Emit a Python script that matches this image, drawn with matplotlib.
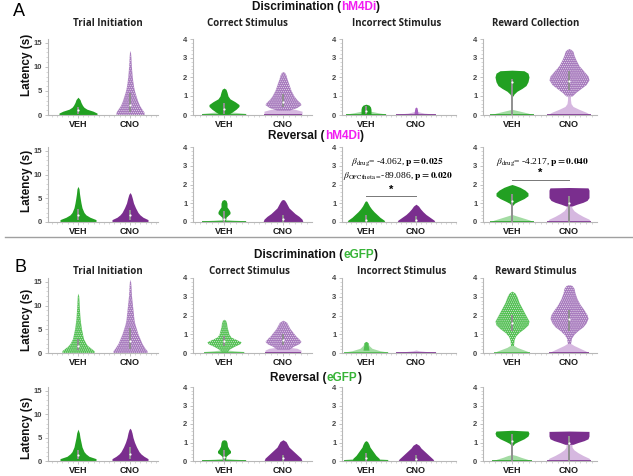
import numpy as np
import matplotlib
matplotlib.use("Agg")
import matplotlib.pyplot as plt
from matplotlib.lines import Line2D
from matplotlib.ticker import MultipleLocator
from matplotlib.offsetbox import TextArea, HPacker, AnnotationBbox

plt.rcParams['font.family'] = ['Liberation Sans', 'DejaVu Sans']
plt.rcParams['mathtext.fontset'] = 'stix'
plt.rcParams['hatch.linewidth'] = 0.35

# ---------------- data (latency level, violin half width) ----------------
groups = ['VEH', 'CNO']
subtitles_top = ['Trial Initiation', 'Correct Stimulus', 'Incorrect Stimulus', 'Reward Collection']
subtitles_bot = ['Trial Initiation', 'Correct Stimulus', 'Incorrect Stimulus', 'Reward Stimulus']

# A: Discrimination (hM4Di)
disc_hm4di_veh_body = [
    [(0, 19), (0.4, 19), (0.8, 15), (1.2, 9), (1.6, 6), (2.0, 4.5), (2.6, 3), (3.2, 2), (3.7, 0)],
    [(0.02, 4), (0.15, 8), (0.3, 12), (0.45, 15), (0.55, 15), (0.7, 11), (0.85, 6), (1.0, 4), (1.2, 3), (1.35, 2), (1.42, 0)],
    [(0.0, 5), (0.15, 5), (0.3, 5), (0.42, 4.5), (0.52, 3), (0.57, 0)],
    [(1.0, 1), (1.1, 2), (1.25, 5), (1.4, 10), (1.55, 14), (1.75, 16), (2.0, 17), (2.2, 16), (2.33, 12), (2.36, 0)],
]
disc_hm4di_veh_base = [
    None,
    [(0, 22), (0.08, 22), (0.15, 10), (0.22, 0)],
    [(0, 20), (0.05, 20), (0.12, 12), (0.25, 0)],
    [(0, 22), (0.1, 16), (0.2, 8), (0.3, 0)],
]
disc_hm4di_cno_body = [
    [(0, 14), (0.6, 14), (1.2, 12), (2, 9.5), (3, 7.5), (4, 6), (5, 4.5), (6, 3.5), (7, 2.8), (8, 2.2),
     (9, 1.8), (10, 1.4), (11, 1.1), (12, 0.9), (13, 0.5), (13.4, 0)],
    [(0.25, 6), (0.4, 14), (0.55, 18), (0.65, 17), (0.8, 14), (1.0, 11), (1.3, 8), (1.6, 6), (1.9, 4), (2.1, 3), (2.25, 1.5), (2.28, 0)],
    [(0.05, 2), (0.25, 1.5), (0.38, 1), (0.42, 0)],
    [(1.0, 3), (1.2, 7), (1.4, 12), (1.6, 17), (1.85, 20), (2.05, 19), (2.3, 15), (2.6, 10), (2.9, 7), (3.15, 5), (3.35, 4), (3.45, 2), (3.5, 0)],
]
disc_hm4di_cno_base = [
    None,
    [(0, 19), (0.2, 19), (0.3, 12), (0.35, 0)],
    [(0, 20), (0.05, 18), (0.1, 8), (0.2, 0)],
    [(0, 22), (0.15, 17), (0.3, 10), (0.45, 4), (0.6, 2), (0.8, 1.5), (1.0, 1.5)],
]
disc_hm4di_box = [[(0.3, 1.7, 1.0), (0.6, 4.6, 2.0)],
                  [(0.05, 0.65, 0.3), (0.4, 1.1, 0.7)],
                  [(0.05, 0.45, 0.2), None],
                  [(0.0, 1.9, 1.75), (1.3, 2.3, 1.8)]]

# A: Reversal (hM4Di)
rev_hm4di_veh_body = [
    [(0, 18), (0.5, 18), (1, 12), (1.5, 8), (2, 6), (3, 4), (4, 3), (5, 2.2), (6, 1.5), (7, 1), (7.5, 0)],
    [(0.05, 1.5), (0.25, 2), (0.35, 4), (0.45, 6), (0.55, 6), (0.65, 5), (0.8, 3), (1.0, 3), (1.15, 2), (1.2, 0)],
    [(0, 19), (0.1, 18), (0.25, 14), (0.4, 11), (0.55, 8), (0.7, 5.5), (0.85, 3.5), (1.0, 2), (1.1, 1), (1.13, 0)],
    [(0.9, 1), (1.0, 2.5), (1.1, 6), (1.25, 12), (1.4, 16), (1.55, 16), (1.7, 13), (1.85, 8), (1.95, 3), (2.0, 0)],
]
rev_hm4di_veh_base = [
    None,
    [(0, 22), (0.06, 22), (0.1, 10), (0.15, 0)],
    None,
    [(0, 22), (0.1, 18), (0.2, 12), (0.3, 6), (0.4, 0)],
]
rev_hm4di_cno_body = [
    [(0, 18), (0.5, 18), (1, 13), (1.5, 10), (2, 8), (3, 5.5), (4, 3.5), (5, 2.3), (5.8, 1.2), (6.2, 0)],
    [(0, 20), (0.15, 19), (0.3, 16), (0.45, 12), (0.6, 9), (0.75, 6), (0.9, 4.5), (1.05, 3), (1.17, 1.5), (1.2, 0)],
    [(0, 19), (0.1, 18), (0.25, 14), (0.4, 10), (0.55, 7), (0.7, 4.5), (0.85, 2.5), (0.95, 0)],
    [(0.85, 3), (0.95, 8), (1.05, 14), (1.15, 18), (1.3, 20), (1.5, 20), (1.7, 20), (1.82, 19), (1.84, 0)],
]
rev_hm4di_cno_base = [
    None, None, None,
    [(0, 22), (0.15, 20), (0.3, 14), (0.45, 9), (0.6, 5), (0.75, 3), (0.85, 2.5)],
]
rev_hm4di_box = [[(0.5, 2.7, 1.5), (0.5, 2.6, 1.5)],
                 [(0.0, 0.6, 0.15), (0.0, 0.4, 0.15)],
                 [(0.0, 0.35, 0.12), (0.0, 0.3, 0.1)],
                 [(0.0, 1.5, 1.1), (0.0, 1.4, 1.0)]]

# B: Discrimination (eGFP)
disc_egfp_veh_body = [
    [(0, 16), (0.5, 16), (1, 13), (1.5, 10), (2, 8), (3, 5.5), (4, 4.5), (5, 3.5), (6, 2.8), (7, 2.2),
     (8, 1.8), (9, 1.5), (10, 1.2), (11, 1), (12, 0.7), (12.6, 0)],
    [(0.05, 3), (0.2, 5), (0.35, 10), (0.5, 16), (0.6, 17), (0.7, 13), (0.85, 7), (1.0, 5), (1.2, 4), (1.4, 3), (1.6, 2.5), (1.75, 1.5), (1.8, 0)],
    [(0.15, 3), (0.3, 2.5), (0.45, 2), (0.55, 2), (0.62, 0)],
    [(0.4, 1.5), (0.7, 2), (0.9, 3.5), (1.1, 7), (1.3, 12), (1.5, 16), (1.7, 17), (1.9, 15), (2.1, 13), (2.4, 10), (2.7, 7), (3.0, 5), (3.2, 3), (3.3, 0)],
]
disc_egfp_veh_base = [
    None,
    [(0, 20), (0.08, 20), (0.12, 10), (0.18, 0)],
    [(0, 22), (0.05, 22), (0.12, 14), (0.25, 6), (0.4, 3), (0.55, 2), (0.62, 0)],
    [(0, 18), (0.1, 15), (0.2, 10), (0.3, 5), (0.4, 2)],
]
disc_egfp_cno_body = [
    [(0, 17), (0.5, 17), (1, 15), (2, 12), (3, 10), (4, 8), (5, 6.5), (6, 5), (7, 4), (8, 3.5), (9, 3),
     (10, 2.5), (11, 2), (12, 1.5), (13, 1.2), (14, 1), (15, 0.6), (15.5, 0)],
    [(0.2, 6), (0.35, 10), (0.5, 16), (0.62, 18), (0.75, 16), (0.9, 13), (1.1, 10), (1.3, 7), (1.5, 5), (1.65, 3.5), (1.72, 1), (1.75, 0)],
    None,
    [(0.5, 1.5), (0.8, 2.5), (1.0, 5), (1.2, 9), (1.4, 14), (1.6, 17), (1.85, 19), (2.05, 18), (2.3, 15), (2.6, 11),
     (2.9, 8), (3.2, 6), (3.45, 5), (3.6, 3), (3.65, 0)],
]
disc_egfp_cno_base = [
    None,
    [(0, 18), (0.15, 18), (0.25, 14), (0.35, 0)],
    [(0, 20), (0.04, 20), (0.08, 10), (0.12, 3), (0.16, 0)],
    [(0, 20), (0.1, 17), (0.25, 11), (0.4, 5), (0.5, 2)],
]
disc_egfp_box = [[(0.6, 2.9, 1.5), (0.8, 5.3, 2.5)],
                 [(0.4, 0.9, 0.65), (0.45, 1.0, 0.7)],
                 [None, None],
                 [(1.15, 2.05, 1.6), (1.2, 2.3, 1.8)]]

# B: Reversal (eGFP)
rev_egfp_veh_body = [
    [(0, 18), (0.5, 18), (1, 11), (1.5, 8), (2, 6), (3, 4), (4, 3), (5, 2), (6, 1.3), (6.8, 0)],
    [(0.05, 1.5), (0.25, 2), (0.35, 4), (0.45, 6.5), (0.55, 6.5), (0.65, 5), (0.8, 3.5), (1.0, 3), (1.12, 2), (1.15, 0)],
    [(0, 14), (0.15, 13), (0.3, 10), (0.45, 8), (0.6, 6), (0.75, 4), (0.9, 3), (1.05, 1.5), (1.1, 0)],
    [(0.85, 1), (0.95, 2.5), (1.05, 6), (1.2, 12), (1.35, 16), (1.5, 17), (1.62, 16), (1.66, 0)],
]
rev_egfp_veh_base = [
    None,
    [(0, 22), (0.06, 22), (0.1, 10), (0.15, 0)],
    [(0, 22), (0.08, 22), (0.15, 10), (0.2, 0)],
    [(0, 20), (0.1, 15), (0.2, 9), (0.3, 4), (0.35, 0)],
]
rev_egfp_cno_body = [
    [(0, 18), (0.5, 18), (1, 14), (1.5, 11), (2, 9), (3, 6.5), (4, 4.5), (5, 3), (6, 2), (6.7, 1), (7, 0)],
    [(0, 19), (0.15, 18), (0.3, 15), (0.45, 12), (0.6, 9), (0.75, 6), (0.9, 4.5), (1.05, 3), (1.15, 0)],
    [(0, 18), (0.1, 17), (0.25, 14), (0.4, 11), (0.55, 8), (0.7, 5), (0.85, 3), (0.95, 0)],
    [(0.9, 4), (1.0, 9), (1.1, 15), (1.2, 19), (1.35, 20), (1.5, 20), (1.6, 20), (1.62, 0)],
]
rev_egfp_cno_base = [
    None, None, None,
    [(0, 22), (0.15, 20), (0.3, 14), (0.45, 9), (0.6, 5), (0.75, 3), (0.9, 3)],
]
rev_egfp_box = [[(0.5, 2.4, 1.3), (0.5, 2.9, 1.5)],
                [(0.0, 0.6, 0.2), (0.0, 0.35, 0.15)],
                [(0.0, 0.45, 0.15), (0.0, 0.35, 0.1)],
                [(0.0, 1.45, 1.1), (0.0, 1.35, 1.0)]]

# stats annotations (A reversal)
stat_incorrect = [r'$\beta_{\mathrm{drug}}$= -4.062, $\mathbf{p=0.025}$',
                  r'$\beta_{\mathrm{OFCtheta=}}$-89.086, $\mathbf{p=0.020}$']
stat_reward = [r'$\beta_{\mathrm{drug}}$= -4.217, $\mathbf{p=0.040}$']

# ---------------- styles ----------------
GREEN = '#22a022'
GREEN_SP = '#55c255'
GREEN_LT = '#a3dca3'
PURPLE = '#7a2e8e'
PURPLE_SP = '#a87cbe'
PURPLE_LT = '#d6b8e0'
BOXC = '#8f8f8f'

W, H = 633, 476
fig = plt.figure(figsize=(W / 100, H / 100), dpi=100)

rows_px = [(39, 115), (147, 222), (278, 353), (387, 461)]
cols_px = [(48, 158, 78, 130), (193, 312, 224, 283), (342, 456, 366, 416), (483, 597, 512, 569)]


def violin(ax, x, prof, unit, color, speckle=False):
    if prof is None:
        return
    y = np.array([p[0] for p in prof])
    w = np.array([p[1] for p in prof]) / unit
    ax.fill_betweenx(y, x - w, x + w, color=color, lw=0, zorder=2)
    if speckle:
        ax.fill_betweenx(y, x - w, x + w, facecolor='none', edgecolor='#f4eef6',
                         hatch='........', lw=0, zorder=2.1)


def base(ax, x, prof, unit, color, barcolor):
    if prof is None:
        return
    violin(ax, x, prof, unit, color)
    w0 = prof[0][1] / unit
    ax.plot([x - w0, x + w0], [0.015, 0.015], color=barcolor, lw=1.2, zorder=2.05,
            solid_capstyle='butt')


rows = [
    (disc_hm4di_veh_body, disc_hm4di_veh_base, disc_hm4di_cno_body, disc_hm4di_cno_base, disc_hm4di_box,
     [(GREEN, False)] * 4, [(PURPLE_SP, True), (PURPLE_SP, True), ('#a45fbf', False), (PURPLE_SP, True)]),
    (rev_hm4di_veh_body, rev_hm4di_veh_base, rev_hm4di_cno_body, rev_hm4di_cno_base, rev_hm4di_box,
     [(GREEN, False)] * 4, [(PURPLE, False)] * 4),
    (disc_egfp_veh_body, disc_egfp_veh_base, disc_egfp_cno_body, disc_egfp_cno_base, disc_egfp_box,
     [(GREEN_SP, True), (GREEN_SP, True), ('#52c052', False), (GREEN_SP, True)], [(PURPLE_SP, True)] * 4),
    (rev_egfp_veh_body, rev_egfp_veh_base, rev_egfp_cno_body, rev_egfp_cno_base, rev_egfp_box,
     [(GREEN, False)] * 4, [(PURPLE, False)] * 4),
]

axes = {}
for r, (top, bot) in enumerate(rows_px):
    vb, vbase, cb, cbase, boxes, vsty, csty = rows[r]
    for c, (l, rr, vpx, cpx) in enumerate(cols_px):
        ax = fig.add_axes([l / W, 1 - bot / H, (rr - l) / W, (bot - top) / H])
        axes[(r, c)] = ax
        unit = cpx - vpx
        ax.set_xlim(1 - (vpx - l) / unit, 2 + (rr - cpx) / unit)
        ymax = 15.8 if c == 0 else 4
        ax.set_ylim(0, ymax)

        base(ax, 1, vbase[c], unit, GREEN_LT, GREEN if r != 2 else '#46b846')
        base(ax, 2, cbase[c], unit, PURPLE_LT, PURPLE)
        violin(ax, 1, vb[c], unit, vsty[c][0], vsty[c][1])
        violin(ax, 2, cb[c], unit, csty[c][0], csty[c][1])
        for x, bx in zip([1, 2], boxes[c]):
            if bx is None:
                continue
            lo, hi, med = bx
            ax.plot([x, x], [lo, hi], color=BOXC, lw=1.4, zorder=3, solid_capstyle='butt')
            ax.plot(x, med, 'o', ms=1.6, color='white', mew=0, zorder=3.1)

        for s in ['top', 'right']:
            ax.spines[s].set_visible(False)
        for s in ['left', 'bottom']:
            ax.spines[s].set_color('#b8b8b8')
            ax.spines[s].set_linewidth(0.8)
        ax.set_xticks([1, 2])
        ax.set_xticklabels(groups, fontsize=6.5, fontweight='bold', color='#1a1a1a')
        if c == 0:
            ax.set_yticks([0, 5, 10, 15])
            ax.yaxis.set_minor_locator(MultipleLocator(1))
        else:
            ax.set_yticks([0, 1, 2, 3, 4])
            ax.yaxis.set_minor_locator(MultipleLocator(0.2))
        ax.xaxis.set_minor_locator(MultipleLocator(0.1))
        ax.tick_params(axis='both', which='major', length=2.5, width=0.6, color='#b8b8b8', pad=1.5)
        ax.tick_params(axis='x', which='major', pad=0.8)
        ax.tick_params(axis='both', which='minor', length=1.2, width=0.5, color='#c8c8c8')
        ax.tick_params(axis='y', labelsize=5.5, labelcolor='#444444')
        for t in ax.get_yticklabels():
            t.set_fontweight('bold')
        ax.patch.set_alpha(0)

# statistics on A reversal panels
ax = axes[(1, 2)]
ax.text(1.64, 3.2, stat_incorrect[0], ha='center', va='center', fontsize=6.8, family='Liberation Serif')
ax.text(1.64, 2.45, stat_incorrect[1], ha='center', va='center', fontsize=6.8, family='Liberation Serif')
ax.plot([1, 2], [1.37, 1.37], color='#777777', lw=0.7)
ax.text(1.5, 1.45, '*', ha='center', va='bottom', fontsize=8, fontweight='bold')
ax = axes[(1, 3)]
ax.text(1.53, 3.22, stat_reward[0], ha='center', va='center', fontsize=6.8, family='Liberation Serif')
ax.plot([1, 2], [2.26, 2.26], color='#777777', lw=0.7)
ax.text(1.5, 2.34, '*', ha='center', va='bottom', fontsize=8, fontweight='bold')


def px(x, y):
    return x / W, 1 - y / H


# row titles with coloured virus name
def row_title(y, word, virus, vcolor):
    kw = dict(fontsize=8.5, fontweight='bold', family='Liberation Sans')
    parts = [TextArea(word + ' (', textprops=dict(color='#111111', **kw)),
             TextArea(virus, textprops=dict(color=vcolor, **kw)),
             TextArea(')', textprops=dict(color='#111111', **kw))]
    box = HPacker(children=parts, align='baseline', pad=0, sep=0)
    ab = AnnotationBbox(box, px(316, y), xycoords='figure fraction', frameon=False,
                        box_alignment=(0.5, 0.5))
    fig.add_artist(ab)


row_title(7, 'Discrimination', 'hM4Di', '#f21cf2')
row_title(136, 'Reversal', 'hM4Di', '#f21cf2')
row_title(255, 'Discrimination', 'eGFP', '#37b437')
row_title(378, 'Reversal', 'eGFP', '#37b437')

for x, t in zip([108, 247, 397, 536], subtitles_top):
    fig.text(*px(x, 24), t, ha='center', va='center', fontsize=7, fontweight='bold',
             family='Open Sans', color='#222222')
for x, t in zip([108, 249, 402, 536], subtitles_bot):
    fig.text(*px(x, 272), t, ha='center', va='center', fontsize=7, fontweight='bold',
             family='Open Sans', color='#222222')

for y in [65, 181, 320, 428]:
    fig.text(*px(27, y), 'Latency (s)', rotation=90, ha='center', va='center',
             fontsize=8.5, fontweight='bold', color='#111111')

fig.text(*px(19, 12), 'A', ha='center', va='center', fontsize=13)
fig.text(*px(21, 268), 'B', ha='center', va='center', fontsize=13)

fig.add_artist(Line2D([5 / W, 1], [1 - 237 / H] * 2, color='#a0a0a0', lw=1.0))

fig.savefig('out.png', dpi=100)
